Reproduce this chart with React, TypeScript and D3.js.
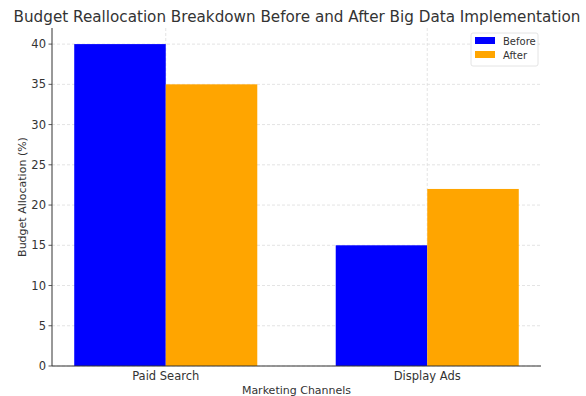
import React from "react";
import * as d3 from "d3";

const categories = ["Paid Search", "Display Ads"];
const seriesNames = ["Before", "After"];
const beforeValues = [40, 15];
const afterValues = [35, 22];
const yTicks = [0, 5, 10, 15, 20, 25, 30, 35, 40];
const colors = ["#0000ff", "#ffa500"];

const W = 586;
const H = 396;
const margin = { left: 52, right: 45, top: 28, bottom: 30 };
const FONT = "DejaVu Sans, sans-serif";

export default function App() {
  const barWidth = 0.35;
  const x = d3
    .scaleLinear()
    .domain([-0.435, 1.435])
    .range([margin.left, W - margin.right]);
  const y = d3
    .scaleLinear()
    .domain([0, 42])
    .range([H - margin.bottom, margin.top]);

  const series = [beforeValues, afterValues];
  const x0 = x.range()[0];
  const x1 = x.range()[1];
  const y0 = y(0);
  const yTop = y(42);

  return (
    <svg
      width={W}
      height={H}
      style={{ position: "absolute", left: 0, top: 0, background: "#fff" }}
      fontFamily={FONT}
    >
      {/* grid */}
      <g stroke="#dcdcdc" strokeWidth={0.8} strokeDasharray="3,2">
        {yTicks.map((t) => (
          <line key={"gy" + t} x1={x0} x2={x1} y1={y(t)} y2={y(t)} />
        ))}
        {categories.map((c, i) => (
          <line key={"gx" + c} x1={x(i)} x2={x(i)} y1={y0} y2={yTop} />
        ))}
      </g>

      {/* bars */}
      {series.map((vals, s) =>
        vals.map((v, i) => {
          const left = s === 0 ? x(i - barWidth) : x(i);
          const right = s === 0 ? x(i) : x(i + barWidth);
          return (
            <rect
              key={s + "-" + i}
              x={left}
              y={y(v)}
              width={right - left}
              height={y0 - y(v)}
              fill={colors[s]}
            />
          );
        })
      )}

      {/* axes spines */}
      <line x1={x0} x2={x0} y1={yTop} y2={y0} stroke="#333" strokeWidth={1} />
      <line x1={x0} x2={x1} y1={y0} y2={y0} stroke="#333" strokeWidth={1} />

      {/* y ticks */}
      {yTicks.map((t) => (
        <g key={"yt" + t}>
          <line x1={x0 - 3.5} x2={x0} y1={y(t)} y2={y(t)} stroke="#333" strokeWidth={0.8} />
          <text
            x={x0 - 6}
            y={y(t)}
            dy="0.35em"
            textAnchor="end"
            fontSize={11.5}
            fill="#333"
          >
            {t}
          </text>
        </g>
      ))}

      {/* x ticks */}
      {categories.map((c, i) => (
        <text
          key={"xt" + c}
          x={x(i)}
          y={y0 + 14}
          textAnchor="middle"
          fontSize={11.5}
          fill="#333"
        >
          {c}
        </text>
      ))}

      {/* axis labels */}
      <text
        x={(x0 + x1) / 2}
        y={H - 2}
        textAnchor="middle"
        fontSize={11}
        fill="#333"
      >
        Marketing Channels
      </text>
      <text
        transform={`translate(26,${(y0 + yTop) / 2}) rotate(-90)`}
        textAnchor="middle"
        fontSize={11}
        fill="#333"
      >
        Budget Allocation (%)
      </text>

      {/* title */}
      <text
        x={297}
        y={22}
        textAnchor="middle"
        fontSize={15.2}
        fill="#333"
      >
        Budget Reallocation Breakdown Before and After Big Data Implementation
      </text>

      {/* legend */}
      <g transform={`translate(${x1 - 70},${yTop + 5})`}>
        <rect x={0} y={0} width={67} height={33} fill="#fff" stroke="#ddd" strokeWidth={0.8} rx={2} />
        {seriesNames.map((n, i) => (
          <g key={n} transform={`translate(4,${4 + i * 14})`}>
            <rect x={0} y={0} width={20} height={7} fill={colors[i]} />
            <text x={28} y={4} dy="0.35em" fontSize={10} fill="#333">
              {n}
            </text>
          </g>
        ))}
      </g>
    </svg>
  );
}
